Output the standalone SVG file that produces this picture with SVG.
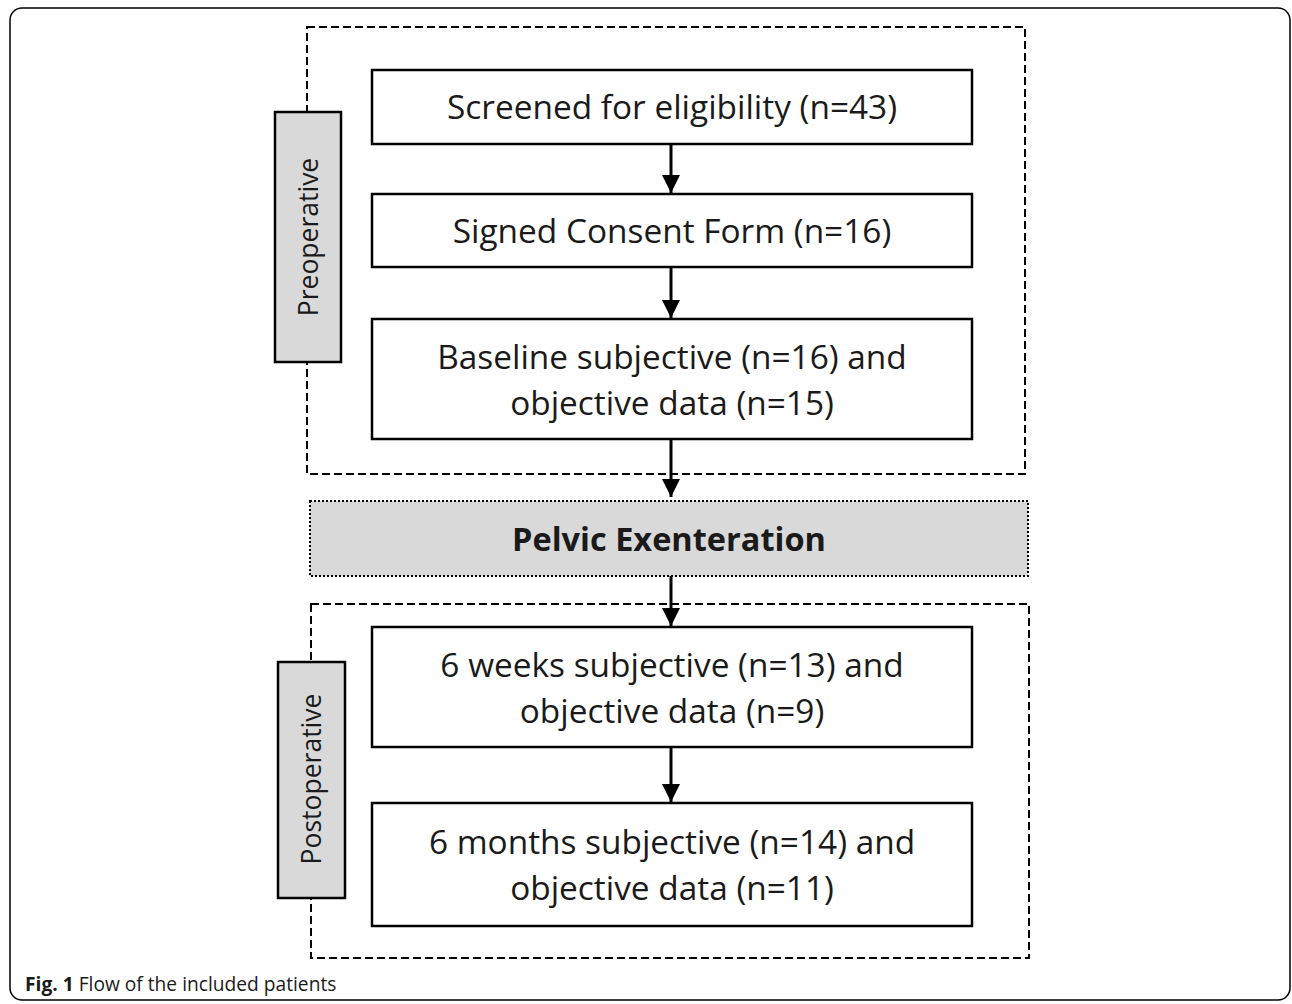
<svg xmlns="http://www.w3.org/2000/svg" width="1292" height="1004" viewBox="0 0 1292 1004">
<style>
.box{fill:#fff;stroke:#000;stroke-width:2.5}
.phase{fill:none;stroke:#000;stroke-width:2;stroke-dasharray:8 4}
.lab{fill:#d9d9d9;stroke:#000;stroke-width:2.5}
.t{font-family:"Open Sans","Noto Sans",sans-serif;font-size:33.4px;fill:#1a1a1a;text-anchor:middle}
.v{font-family:"Open Sans","Noto Sans",sans-serif;font-size:26.5px;fill:#1a1a1a;text-anchor:middle}
.a{stroke:#000;stroke-width:3;fill:none}
</style>
<defs>
<marker id="ah" markerWidth="18" markerHeight="20" refX="18" refY="9" orient="auto" markerUnits="userSpaceOnUse" viewBox="0 0 18 18">
<path d="M0,0 L18,9 L0,18 z" fill="#000"/>
</marker>
</defs>
<rect x="10" y="8" width="1280" height="992" rx="12" fill="#fff" stroke="#000" stroke-width="1.5"/>
<g id="preop">
<rect class="phase" x="307" y="27" width="718" height="447"/>
<rect class="lab" x="275" y="112" width="66" height="250"/>
<text class="v" transform="translate(318,237) rotate(-90)">Preoperative</text>
</g>
<g id="postop">
<rect class="phase" x="311" y="604" width="718" height="354"/>
<rect class="lab" x="278" y="662" width="67" height="236"/>
<text class="v" transform="translate(321,779) rotate(-90)">Postoperative</text>
</g>
<g id="screened">
<rect class="box" x="372" y="70" width="600" height="74"/>
<text class="t" x="672" y="119">Screened for eligibility (n=43)</text>
</g>
<g id="consent">
<rect class="box" x="372" y="194" width="600" height="73"/>
<text class="t" x="672" y="243">Signed Consent Form (n=16)</text>
</g>
<g id="baseline">
<rect class="box" x="372" y="319" width="600" height="120"/>
<text class="t" x="672" y="369">Baseline subjective (n=16) and</text>
<text class="t" x="672" y="415">objective data (n=15)</text>
</g>
<g id="pelvic">
<rect x="310" y="501" width="718" height="75" fill="#d9d9d9" stroke="#000" stroke-width="2" stroke-dasharray="2 2"/>
<text class="t" x="669" y="551" font-weight="bold" style="font-size:32.5px">Pelvic Exenteration</text>
</g>
<g id="weeks">
<rect class="box" x="372" y="627" width="600" height="120"/>
<text class="t" x="672" y="677">6 weeks subjective (n=13) and</text>
<text class="t" x="672" y="723">objective data (n=9)</text>
</g>
<g id="months">
<rect class="box" x="372" y="803" width="600" height="123"/>
<text class="t" x="672" y="854">6 months subjective (n=14) and</text>
<text class="t" x="672" y="900">objective data (n=11)</text>
</g>
<g id="connectors">
<line class="a" x1="671" y1="144" x2="671" y2="193" marker-end="url(#ah)"/>
<line class="a" x1="671" y1="267" x2="671" y2="318" marker-end="url(#ah)"/>
<line class="a" x1="671" y1="439" x2="671" y2="497" marker-end="url(#ah)"/>
<line class="a" x1="671" y1="576" x2="671" y2="626" marker-end="url(#ah)"/>
<line class="a" x1="671" y1="747" x2="671" y2="802" marker-end="url(#ah)"/>
</g>
<text x="25" y="991" font-family="Open Sans, Noto Sans, sans-serif" font-size="19.2" fill="#1a1a1a"><tspan font-weight="bold">Fig. 1</tspan> Flow of the included patients</text>
</svg>
